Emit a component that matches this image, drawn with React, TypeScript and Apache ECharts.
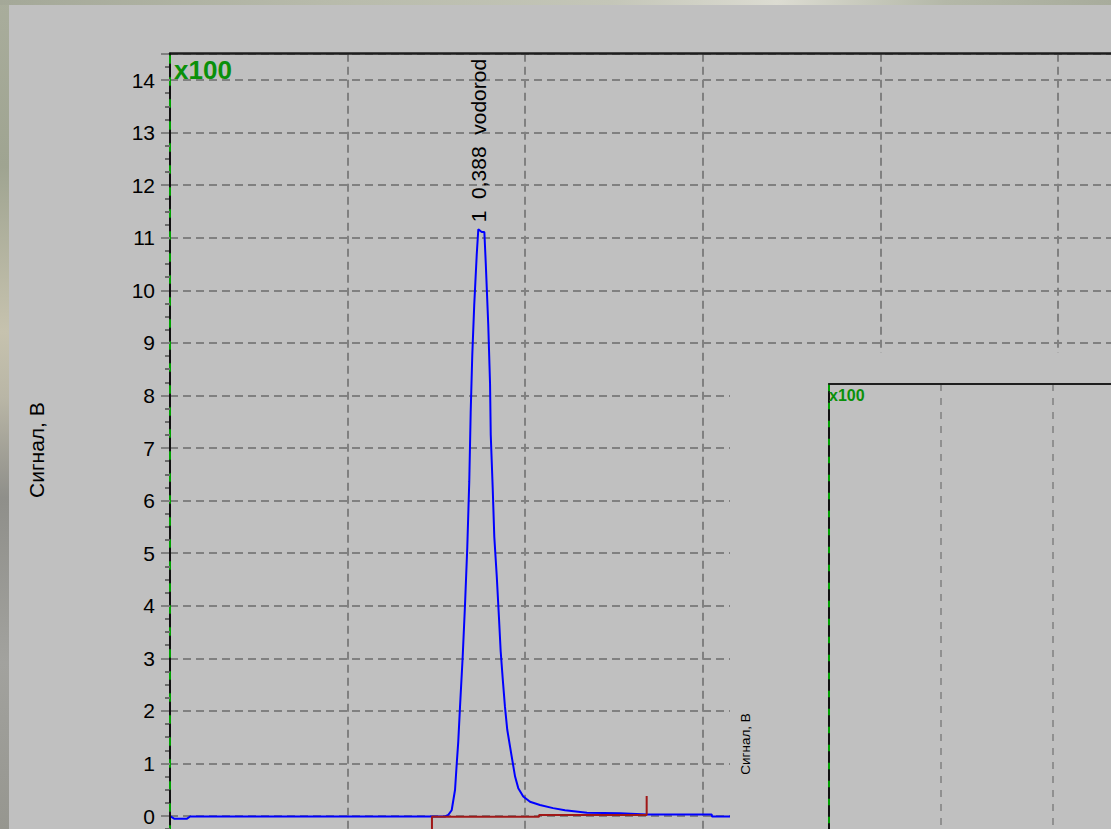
import React, { useEffect, useRef } from "react";
import * as echarts from "echarts";

// Chromatogram trace: retention time (grid units) vs detector signal (x100 V)
const peakTimes = [
  0, 0.023, 0.096, 0.113, 1.548, 1.567, 1.586, 1.605, 1.614, 1.623, 1.633,
  1.648, 1.661, 1.674, 1.685, 1.693, 1.702, 1.713, 1.727, 1.736, 1.755, 1.77,
  1.778, 1.792, 1.802, 1.806, 1.817, 1.826, 1.84, 1.852, 1.862, 1.873, 1.886,
  1.899, 1.924, 1.943, 1.961, 1.989, 2.027, 2.083, 2.157, 2.224, 2.348, 2.534,
  2.686, 3.05, 3.052, 3.5,
];
const peakSignals = [
  0, -0.05, -0.05, -0.01, -0.01, 0.02, 0.11, 0.5, 0.97, 1.41, 2.08, 3.03, 4.01,
  5.12, 6.36, 7.67, 8.77, 9.72, 10.67, 11.16, 11.11, 11.11, 10.51, 9.34, 8.23,
  7.25, 6.24, 5.31, 4.55, 3.79, 3.13, 2.63, 2.08, 1.64, 1.13, 0.75, 0.53, 0.37,
  0.27, 0.21, 0.15, 0.11, 0.06, 0.05, 0.03, 0.03, -0.01, -0.01,
];

// Integration baseline with start / end markers of peak 1
const baselineTimes = [1.475, 1.475, 2.078, 2.078, 2.684, 2.684];
const baselineSignals = [-0.8, -0.013, -0.013, 0.019, 0.019, 0.38];

// Peak annotation: number, amount, component name
const peakApexIndex = 19;
const peakLabel = "1  0,388  vodorod";

const axisName = "Сигнал, В";
const scaleNote = "x100";

const FONT = "'Liberation Sans', Arial, sans-serif";
const GRID_GRAY = "#808080";
const AXIS_GREEN = "#00a000";

function zip(xs: number[], ys: number[]) {
  return xs.map((x, i) => [x, ys[i]]);
}

function MainChart() {
  const ref = useRef<HTMLDivElement>(null);
  useEffect(() => {
    const chart = echarts.init(ref.current!, undefined, { renderer: "svg" });
    const unitY = 736 / 14;
    const yMin = -1;
    const yMax = 14.5;
    chart.setOption({
      animation: false,
      backgroundColor: "transparent",
      grid: {
        left: 170,
        top: 816 - yMax * unitY,
        width: 177.6 * 6,
        height: (yMax - yMin) * unitY,
      },
      xAxis: [
        {
          type: "value",
          min: 0,
          max: 6,
          interval: 1,
          position: "bottom",
          axisLine: { show: false, onZero: false },
          axisTick: { show: false },
          axisLabel: { show: false },
          splitLine: {
            show: true,
            lineStyle: { color: GRID_GRAY, width: 2, type: [8, 5] },
          },
        },
        {
          type: "value",
          min: 0,
          max: 6,
          interval: 1,
          position: "top",
          z: 5,
          axisLine: {
            show: true,
            onZero: false,
            lineStyle: { color: "#1e1e1e", width: 2.5 },
          },
          axisTick: { show: false },
          axisLabel: { show: false },
          splitLine: { show: false },
        },
      ],
      yAxis: [
        {
          type: "value",
          min: yMin,
          max: yMax,
          interval: 1,
          position: "left",
          name: axisName,
          nameLocation: "middle",
          nameGap: 123,
          nameTextStyle: {
            fontSize: 21,
            color: "#000",
            fontFamily: FONT,
            padding: [0, 0, 0, 22],
          },
          axisLine: {
            show: true,
            onZero: false,
            lineStyle: { color: AXIS_GREEN, width: 2 },
          },
          axisTick: {
            show: true,
            length: 9,
            lineStyle: { color: GRID_GRAY, width: 2 },
          },
          minorTick: {
            show: true,
            splitNumber: 4,
            length: 5,
            lineStyle: { color: "#6a6a6a", width: 2 },
          },
          axisLabel: {
            margin: 15,
            fontSize: 21,
            color: "#000",
            fontFamily: FONT,
            formatter: (v: number) =>
              Number.isInteger(v) && v >= 0 ? String(v) : "",
          },
          splitLine: {
            show: true,
            lineStyle: { color: GRID_GRAY, width: 2, type: [8, 5] },
          },
        },
        {
          type: "value",
          min: yMin,
          max: yMax,
          interval: 1,
          position: "left",
          offset: 0,
          z: 6,
          axisLine: {
            show: true,
            onZero: false,
            lineStyle: { color: "#111", width: 2, type: [12, 10] },
          },
          axisTick: { show: false },
          axisLabel: { show: false },
          splitLine: { show: false },
        },
      ],
      graphic: [
        {
          type: "text",
          left: 174,
          top: 57,
          z: 10,
          style: {
            text: scaleNote,
            fill: "#0a900a",
            font: `bold 26px ${FONT}`,
          },
        },
      ],
      series: [
        {
          type: "line",
          data: zip(peakTimes, peakSignals),
          symbol: "none",
          lineStyle: { color: "#0000ff", width: 2 },
          markPoint: {
            symbol: "circle",
            symbolSize: 0,
            silent: true,
            data: [
              {
                coord: [peakTimes[peakApexIndex], peakSignals[peakApexIndex]],
                value: peakSignals[peakApexIndex],
              },
            ],
            label: {
              show: true,
              formatter: peakLabel,
              position: "top",
              distance: 7,
              rotate: 90,
              align: "left",
              verticalAlign: "middle",
              fontSize: 21,
              color: "#000",
              fontFamily: FONT,
            },
          },
        },
        {
          type: "line",
          data: zip(baselineTimes, baselineSignals),
          symbol: "none",
          lineStyle: { color: "#a01818", width: 2 },
        },
      ],
    });
    return () => chart.dispose();
  }, []);
  return (
    <div
      ref={ref}
      style={{ position: "absolute", left: 0, top: 0, width: 1400, height: 900 }}
    />
  );
}

function SecondPanel() {
  const ref = useRef<HTMLDivElement>(null);
  useEffect(() => {
    const chart = echarts.init(ref.current!, undefined, { renderer: "svg" });
    chart.setOption({
      animation: false,
      backgroundColor: "#c0c0c0",
      grid: { left: 94, top: 31, width: 113 * 4, height: 720 },
      xAxis: [
        {
          type: "value",
          min: 0,
          max: 4,
          interval: 1,
          position: "bottom",
          axisLine: { show: false, onZero: false },
          axisTick: { show: false },
          axisLabel: { show: false },
          splitLine: {
            show: true,
            lineStyle: { color: GRID_GRAY, width: 1.5, type: [7, 7] },
          },
        },
        {
          type: "value",
          min: 0,
          max: 4,
          interval: 1,
          position: "top",
          z: 5,
          axisLine: {
            show: true,
            onZero: false,
            lineStyle: { color: "#1e1e1e", width: 2 },
          },
          axisTick: { show: false },
          axisLabel: { show: false },
          splitLine: { show: false },
        },
      ],
      yAxis: [
        {
          type: "value",
          min: 0,
          max: 10,
          interval: 1,
          position: "left",
          name: axisName,
          nameLocation: "middle",
          nameGap: 77,
          nameTextStyle: { fontSize: 13.5, color: "#000", fontFamily: FONT },
          axisLine: {
            show: true,
            onZero: false,
            lineStyle: { color: AXIS_GREEN, width: 2 },
          },
          axisTick: { show: false },
          axisLabel: { show: false },
          splitLine: { show: false },
        },
        {
          type: "value",
          min: 0,
          max: 10,
          interval: 1,
          position: "left",
          offset: 0,
          z: 6,
          axisLine: {
            show: true,
            onZero: false,
            lineStyle: { color: "#111", width: 2, type: [10, 8] },
          },
          axisTick: { show: false },
          axisLabel: { show: false },
          splitLine: { show: false },
        },
      ],
      graphic: [
        {
          type: "text",
          left: 99,
          top: 34,
          z: 10,
          style: {
            text: scaleNote,
            fill: "#0a900a",
            font: `bold 16px ${FONT}`,
          },
        },
      ],
      series: [],
    });
    return () => chart.dispose();
  }, []);
  return (
    <div
      ref={ref}
      style={{ position: "absolute", left: 730, top: 353, width: 600, height: 800 }}
    />
  );
}

export default function App() {
  return (
    <div
      style={{
        position: "fixed",
        left: 0,
        top: 0,
        width: 1111,
        height: 829,
        overflow: "hidden",
        background:
          "linear-gradient(180deg, #a9ad9c 0%, #9fa491 20%, #c6c2ae 40%, #b9b6a6 48%, #8f8f8a 60%, #a2a29e 80%, #96968f 100%)",
      }}
    >
      <div
        style={{
          position: "absolute",
          left: 0,
          top: 0,
          width: 1111,
          height: 5,
          background:
            "linear-gradient(90deg, #a4a898 0%, #b8bbab 30%, #c4c6b8 55%, #dcdcd2 70%, #b4b8a8 85%, #a8ac9c 100%)",
        }}
      />
      <div
        style={{
          position: "absolute",
          left: 9,
          top: 5,
          right: 0,
          bottom: 0,
          background: "#c0c0c0",
        }}
      />
      <MainChart />
      <SecondPanel />
    </div>
  );
}
